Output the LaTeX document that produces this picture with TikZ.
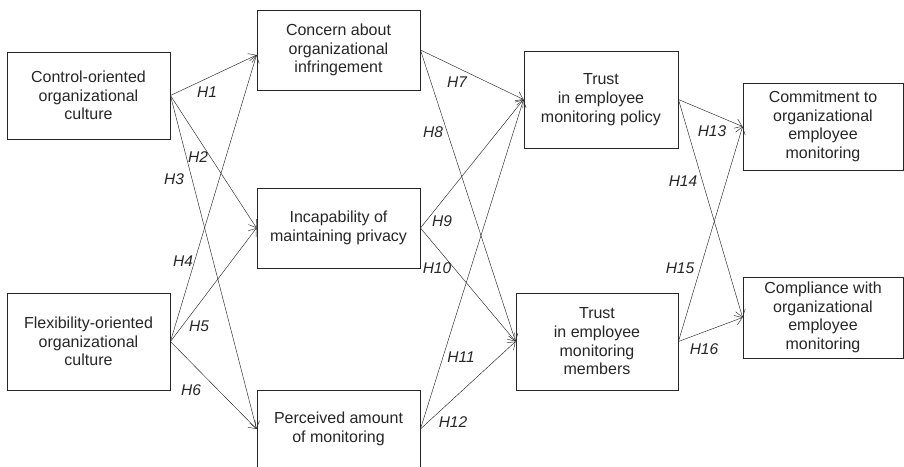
\documentclass[tikz,border=0pt]{standalone}
\usepackage{fontspec}
\setmainfont{Liberation Sans}
\usetikzlibrary{arrows.meta}
\begin{document}
\begin{tikzpicture}[x=1pt,y=-1pt,
  box/.style={draw=black!85, line width=0.9pt, align=center, inner sep=0pt,
    font=\fontsize{16}{18.7}\selectfont, text=black!85},
  link/.style={draw=black!85, line width=0.45pt, -{Straight Barb[length=7pt,width=10pt,line width=0.45pt]}},
  hl/.style={font=\fontsize{15.5}{18}\selectfont\itshape, text=black!85, inner sep=0pt}]
\useasboundingbox (0,0) rectangle (904,466);

\node[box, minimum width=163pt, minimum height=87pt] (ctrl) at (88.5,95.5) {Control-oriented\\organizational\\culture};
\node[box, minimum width=163pt, minimum height=97pt] (flex) at (88.5,341.5) {Flexibility-oriented\\organizational\\culture};
\node[box, minimum width=163pt, minimum height=80pt] (conc) at (338.5,50) {Concern about\\organizational\\infringement};
\node[box, minimum width=163pt, minimum height=80pt] (inca) at (338.5,228) {Incapability of\\maintaining privacy};
\node[box, minimum width=163pt, minimum height=78pt] (perc) at (338.5,429) {Perceived amount\\of monitoring};
\node[box, minimum width=154pt, minimum height=97pt] (pol) at (601,99.5) {Trust\\in employee\\monitoring policy};
\node[box, minimum width=162pt, minimum height=97pt] (mem) at (597,341.5) {Trust\\in employee\\monitoring\\members};
\node[box, minimum width=160pt, minimum height=87pt] (comm) at (823,126.5) {Commitment to\\organizational\\employee\\monitoring};
\node[box, minimum width=160pt, minimum height=81pt] (comp) at (823,317.5) {Compliance with\\organizational\\employee\\monitoring};

\coordinate (concin) at ([yshift=-5pt]conc.west);

\draw[link] (ctrl.east) -- (concin);
\draw[link] (ctrl.east) -- (inca.west);
\draw[link] (ctrl.east) -- (perc.west);
\draw[link] (flex.east) -- (concin);
\draw[link] (flex.east) -- (inca.west);
\draw[link] (flex.east) -- (perc.west);
\draw[link] (conc.east) -- (pol.west);
\draw[link] (conc.east) -- (mem.west);
\draw[link] (inca.east) -- (pol.west);
\draw[link] (inca.east) -- (mem.west);
\draw[link] (perc.east) -- (pol.west);
\draw[link] (perc.east) -- (mem.west);
\draw[link] (pol.east) -- (comm.west);
\draw[link] (pol.east) -- (comp.west);
\draw[link] (mem.east) -- (comm.west);
\draw[link] (mem.east) -- (comp.west);

\node[hl] (h1) at (207,92) {H1};
\node[hl] (h2) at (198,157) {H2};
\node[hl] (h3) at (174,179) {H3};
\node[hl] (h4) at (183,261) {H4};
\node[hl] (h5) at (199,326) {H5};
\node[hl] (h6) at (191,390) {H6};
\node[hl] (h7) at (457,82) {H7};
\node[hl] (h8) at (433,132) {H8};
\node[hl] (h9) at (442,221) {H9};
\node[hl] (h10) at (437,268) {H10};
\node[hl] (h11) at (461,357) {H11};
\node[hl] (h12) at (453,422) {H12};
\node[hl] (h13) at (712,131) {H13};
\node[hl] (h14) at (683,181) {H14};
\node[hl] (h15) at (680,268) {H15};
\node[hl] (h16) at (704,349) {H16};
\end{tikzpicture}
\end{document}
